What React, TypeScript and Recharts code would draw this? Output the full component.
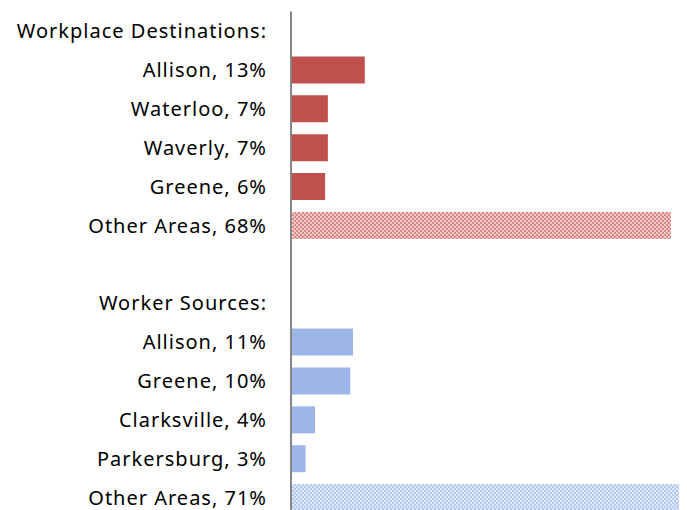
import React from "react";
import { BarChart, Bar, XAxis, YAxis, Cell } from "recharts";

const categories: string[] = [
  "Workplace Destinations:",
  "Allison, 13%",
  "Waterloo, 7%",
  "Waverly, 7%",
  "Greene, 6%",
  "Other Areas, 68%",
  " ",
  "Worker Sources:",
  "Allison, 11%",
  "Greene, 10%",
  "Clarksville, 4%",
  "Parkersburg, 3%",
  "Other Areas, 71%",
];

const values: (number | null)[] = [null, 13.2, 6.6, 6.6, 6.1, 68.0, null, null, 11.1, 10.6, 4.3, 2.6, 71.0];

const groups: string[] = ["", "dest", "dest", "dest", "dest", "dest", "", "", "src", "src", "src", "src", "src"];
const patterned: boolean[] = [false, false, false, false, false, true, false, false, false, false, false, false, true];

const data = categories.map((c, i) => ({ name: c, value: values[i] }));

const fillFor = (i: number) => {
  if (groups[i] === "dest") return patterned[i] ? "url(#patRed)" : "#C0504D";
  if (groups[i] === "src") return patterned[i] ? "url(#patBlue)" : "#9BB5E6";
  return "none";
};

export default function App() {
  return (
    <div style={{ width: 679, height: 502, overflow: "hidden" }}>
      <BarChart
        width={730}
        height={509}
        data={data}
        layout="vertical"
        margin={{ top: 3.6, right: 0, bottom: 0, left: 0 }}
        barSize={27}
      >
        <defs>
          <pattern id="patRed" width="4" height="4" patternUnits="userSpaceOnUse">
            <rect width="4" height="4" fill="#E08886" />
            <rect x="0" y="0" width="2" height="2" fill="#F0BDBC" />
            <rect x="2" y="2" width="2" height="2" fill="#F0BDBC" />
            <rect x="0" y="0" width="1" height="1" fill="#FCEEEE" />
            <rect x="2" y="2" width="1" height="1" fill="#FCEEEE" />
          </pattern>
          <pattern id="patBlue" width="4" height="4" patternUnits="userSpaceOnUse">
            <rect width="4" height="4" fill="#B3C9EF" />
            <rect x="0" y="0" width="2" height="2" fill="#D6E2F7" />
            <rect x="2" y="2" width="2" height="2" fill="#D6E2F7" />
            <rect x="0" y="0" width="1" height="1" fill="#F4F7FD" />
            <rect x="2" y="2" width="1" height="1" fill="#F4F7FD" />
          </pattern>
        </defs>
        <XAxis type="number" domain={[0, 80]} hide />
        <YAxis
          type="category"
          dataKey="name"
          width={283}
          axisLine={{ stroke: "#868686", strokeWidth: 2 }}
          tickLine={false}
          tickSize={0}
          tickMargin={24}
          interval={0}
          tick={{ fill: "#000000", fontSize: 20, fontFamily: "Noto Sans", letterSpacing: 1 }}
        />
        <Bar dataKey="value" isAnimationActive={false}>
          {data.map((d, i) => (
            <Cell key={i} fill={fillFor(i)} />
          ))}
        </Bar>
      </BarChart>
    </div>
  );
}
